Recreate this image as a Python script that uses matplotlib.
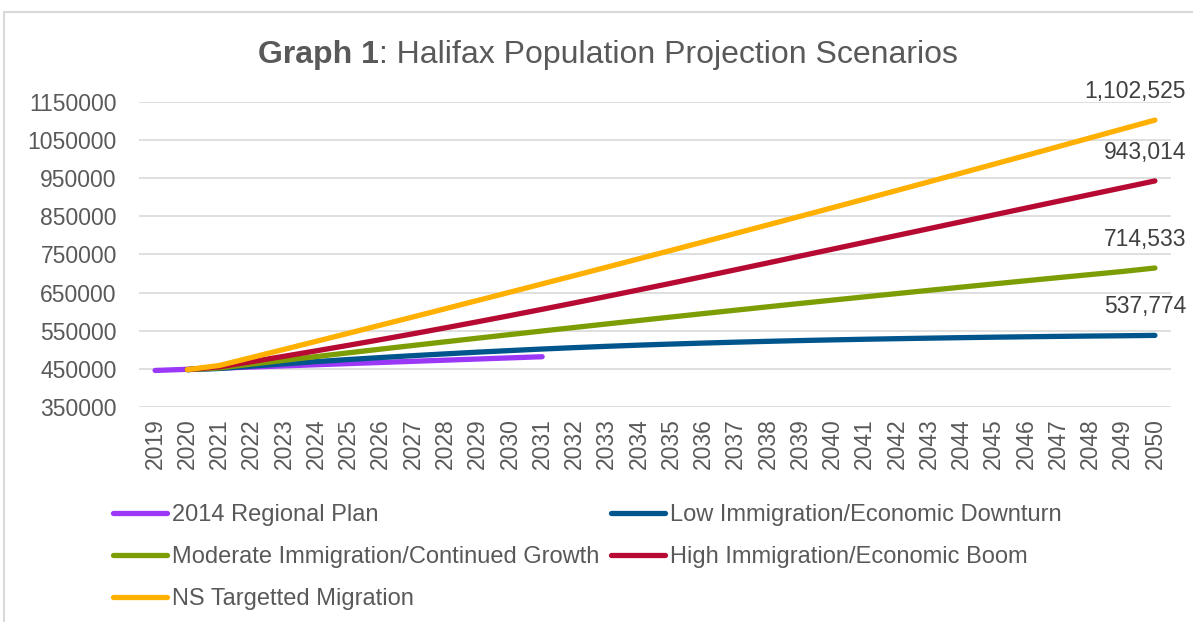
import matplotlib
matplotlib.use("Agg")
import matplotlib.pyplot as plt
from matplotlib.patches import Rectangle
from matplotlib.ticker import FuncFormatter

plt.rcParams['font.family'] = ['Liberation Sans', 'DejaVu Sans']

years = list(range(2019, 2051))

plan_years = list(range(2019, 2032))
plan_2014 = [445800, 448800, 451800, 454800, 457800, 460800, 463800,
             466800, 469800, 472800, 475800, 478800, 481800]

proj_years = list(range(2020, 2051))
low = [448000, 451000, 457200, 463200, 469000, 474500, 479700, 484600,
       489300, 493800, 498000, 502000, 505700, 509100, 512200, 515000,
       517600, 520000, 522200, 524200, 526000, 527650, 529150, 530550,
       531850, 533050, 534150, 535150, 536050, 536850, 537774]
moderate = [448000, 452500, 462500, 472400, 482300, 492100, 501800, 511400,
            521000, 530500, 539900, 549300, 558600, 567800, 576900, 586000,
            595000, 603900, 612800, 621600, 630300, 638900, 647500, 656000,
            664400, 672800, 681100, 689300, 697400, 705500, 714533]
high = [448000, 455500, 469000, 483000, 497300, 511900, 526800, 542000,
        557600, 573500, 589700, 606200, 623000, 640000, 657200, 674600,
        692200, 710000, 727900, 745900, 763900, 781900, 799900, 817900,
        835900, 853800, 871700, 889600, 907400, 925200, 943014]
targeted = [448000, 459000, 480000, 501100, 522300, 543500, 564900, 586300,
            607800, 629400, 651100, 672900, 694700, 716700, 738700, 760800,
            783000, 805300, 827700, 850100, 872700, 895300, 918000, 940800,
            963700, 986700, 1009700, 1032900, 1056100, 1079400, 1102525]

labels = ['2014 Regional Plan', 'Low Immigration/Economic Downturn',
          'Moderate Immigration/Continued Growth', 'High Immigration/Economic Boom',
          'NS Targetted Migration']
colors = ['#9B38F7', '#00558C', '#7C9E04', '#B70A32', '#FFB000']

fig = plt.figure(figsize=(11.93, 6.22), dpi=100)
fig.patches.append(Rectangle((4 / 1193, -0.1), 1.2, 1.1 - 12 / 622,
                             transform=fig.transFigure, fill=False,
                             edgecolor='#d9d9d9', linewidth=1.5))
ax = fig.add_axes([0.1165, 0.3457, 0.8651, 0.4903])

series = [(plan_years, plan_2014), (proj_years, low), (proj_years, moderate),
          (proj_years, high), (proj_years, targeted)]
handles = []
for (xs, ys), lab, col in zip(series, labels, colors):
    line, = ax.plot(xs, ys, color=col, linewidth=3.8, solid_capstyle='round', label=lab)
    handles.append(line)

for ys in [low, moderate, high, targeted]:
    ax.annotate(f"{ys[-1]:,}", xy=(2050, ys[-1]), xytext=(22.3, 15.8),
                textcoords='offset points', ha='right', va='baseline',
                fontsize=16.5, color='#404040', annotation_clip=False)

ax.set_xlim(2018.5, 2050.5)
ax.set_ylim(350000, 1150000)
ax.set_yticks(range(350000, 1150001, 100000))
ax.yaxis.set_major_formatter(FuncFormatter(lambda v, p: f"{int(v)}"))
ax.set_xticks(years)
ax.set_xticklabels([str(y) for y in years], rotation=90)
ax.tick_params(axis='both', length=0, labelsize=16.5, labelcolor='#595959')
ax.tick_params(axis='y', pad=16)
ax.tick_params(axis='x', pad=8)
ax.grid(axis='y', color='#d9d9d9', linewidth=1.2)
ax.set_axisbelow(True)
for s in ax.spines.values():
    s.set_visible(False)

fig.text(0.3177, 0.8987, 'Graph 1', ha='right', va='baseline', fontsize=23,
         fontweight='bold', color='#595959')
fig.text(0.3177, 0.8987, ': Halifax Population Projection Scenarios', ha='left',
         va='baseline', fontsize=23, color='#595959')

# legend fills row by row in the reference
order = [0, 2, 4, 1, 3]
fig.legend([handles[i] for i in order], [labels[i] for i in order],
           loc='upper left', bbox_to_anchor=(0.0947, 0.190), ncol=2,
           frameon=False, fontsize=17, handlelength=2.3, handletextpad=0.2,
           columnspacing=0.5, labelspacing=0.85, borderpad=0, borderaxespad=0,
           labelcolor='#595959')

fig.savefig('out.png', dpi=100)
